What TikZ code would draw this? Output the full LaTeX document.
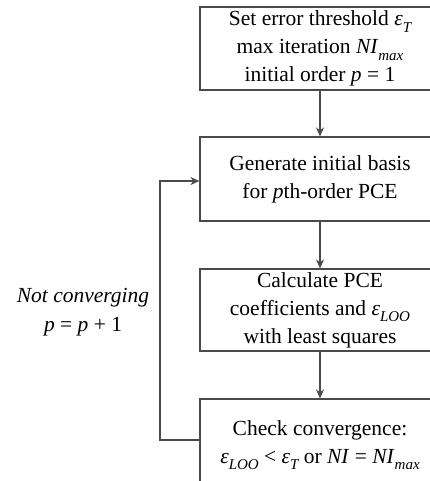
\documentclass[tikz,border=0pt]{standalone}
\usepackage{fontspec}
\setmainfont{Liberation Serif}
\usetikzlibrary{arrows.meta}
\newcommand\sbi[1]{\raisebox{-0.3em}{\fontsize{15}{15}\selectfont\itshape #1}}
\newcommand\eps{{\itshape ε}}
\definecolor{linegray}{HTML}{4A4A4A}
\tikzset{
  flowbox/.style={draw=linegray, line width=1.2pt, minimum width=240pt, align=center,
    inner sep=0pt, font=\fontsize{21.5}{28}\selectfont},
  arr/.style={draw=linegray, line width=1.2pt, -{Stealth[length=9pt,width=8pt]}},
  lbl/.style={align=center, font=\fontsize{21.5}{29}\selectfont}
}
\begin{document}
\begin{tikzpicture}[x=1pt,y=1pt]
\clip (0,0) rectangle (430,-481);
\node[flowbox, minimum height=83pt] (b1) at (320,-48.5)
  {Set error threshold \eps\sbi{T}\\ max iteration \textit{NI}\sbi{max}\\ initial order \textit{p} = 1};
\node[flowbox, minimum height=84pt] (b2) at (320,-179)
  {Generate initial basis\\ for \textit{p}th-order PCE};
\node[flowbox, minimum height=82pt] (b3) at (320,-310)
  {Calculate PCE\\ coefficients and \eps\sbi{LOO}\\ with least squares};
\node[flowbox, minimum height=92pt] (b4) at (320,-445)
  {Check convergence:\\ \eps\sbi{LOO} < \eps\sbi{T} or \textit{NI} = \textit{NI}\sbi{max}};
\node[lbl] (lab) at (83,-312) {\textit{Not converging}\\ \textit{p} = \textit{p} + 1};
\draw[arr] (b1) -- (b2);
\draw[arr] (b2) -- (b3);
\draw[arr] (b3) -- (b4);
\coordinate (j) at (160,-440);
\draw[arr] ([yshift=5pt]b4.west) -- (j) |- ([yshift=-2pt]b2.west);
\end{tikzpicture}
\end{document}
